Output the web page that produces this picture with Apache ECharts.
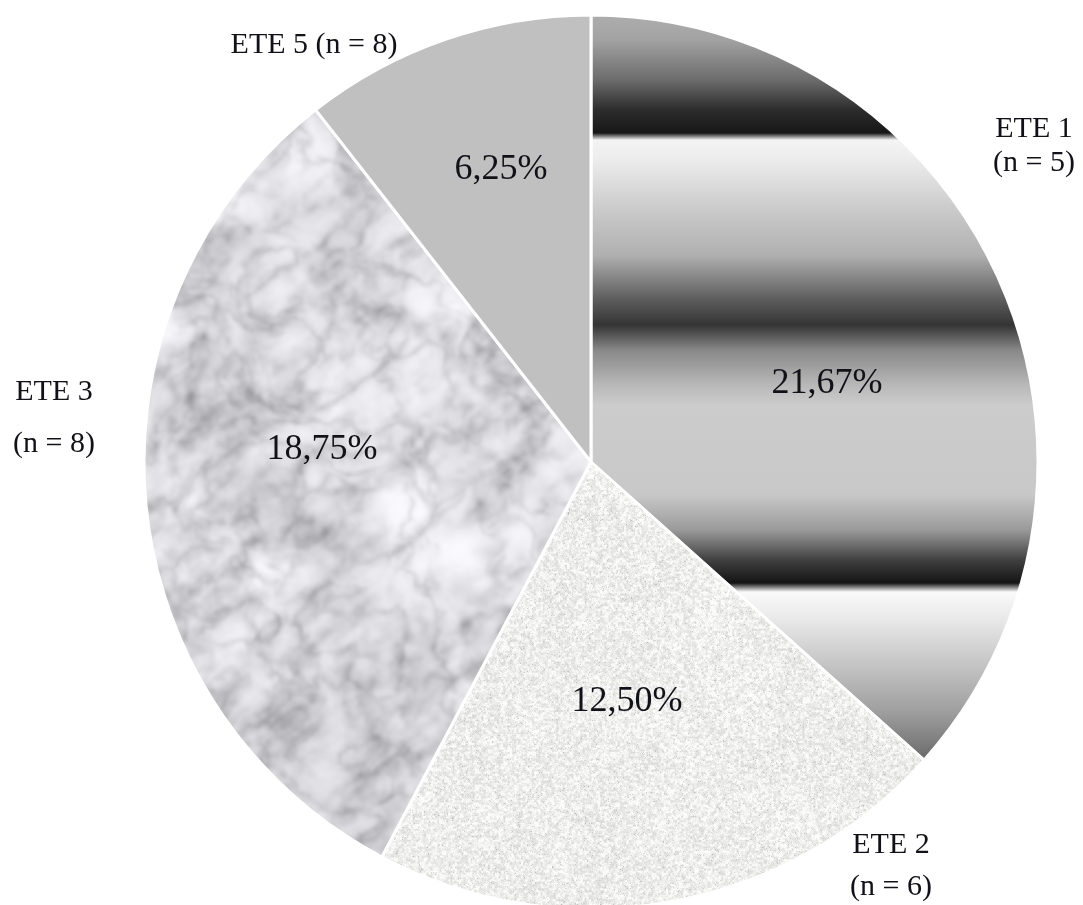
<!DOCTYPE html>
<html>
<head>
<meta charset="utf-8">
<script src="https://cdn.jsdelivr.net/npm/echarts@6/dist/echarts.min.js"></script>
<style>
  html, body { margin: 0; padding: 0; background: #ffffff; }
  #chart { width: 1083px; height: 905px; }
</style>
</head>
<body>
<div id="chart"></div>
<script>
// ---- data ----
const categories = ['ETE 1', 'ETE 2', 'ETE 3', 'ETE 5'];
const counts = [5, 6, 8, 8];
const shares = [21.67, 12.50, 18.75, 6.25];

// ---- layout ----
const W = 1083, H = 905;
const CENTER = [591, 462];
const RADIUS = 447;
// label anchor points (centre of each text block)
const shareLabelPos = [[827, 384], [627, 702], [322, 450], [501, 170]];
const nameLabelPos = [[1034, 146], [891, 866], [54, 418], [314, 45]];
const nameLineHeight = [34, 42, 52, 30];
const nameSeparator = ['\n', '\n', '\n', ' '];

// ---- deterministic noise helpers for the stone textures ----
function hash(ix, iy, seed) {
  let h = Math.imul(ix, 374761393) ^ Math.imul(iy, 668265263) ^ Math.imul(seed, 1442695041);
  h = Math.imul(h ^ (h >>> 13), 1274126177);
  h = h ^ (h >>> 16);
  return (h >>> 0) / 4294967295;
}
function vnoise(x, y, seed) {
  const x0 = Math.floor(x), y0 = Math.floor(y);
  const fx = x - x0, fy = y - y0;
  const sx = fx * fx * (3 - 2 * fx), sy = fy * fy * (3 - 2 * fy);
  const a = hash(x0, y0, seed), b = hash(x0 + 1, y0, seed);
  const c = hash(x0, y0 + 1, seed), d = hash(x0 + 1, y0 + 1, seed);
  const top = a + (b - a) * sx, bot = c + (d - c) * sx;
  return top + (bot - top) * sy;
}
function fbm(x, y, seed, oct) {
  let s = 0, amp = 0.5, f = 1, norm = 0;
  for (let i = 0; i < oct; i++) {
    s += amp * vnoise(x * f, y * f, seed + i * 17);
    norm += amp; amp *= 0.5; f *= 2;
  }
  return s / norm;
}
function softened(src, px) {
  const cv = document.createElement('canvas');
  cv.width = W; cv.height = H;
  const ctx = cv.getContext('2d');
  ctx.filter = 'blur(' + px + 'px)';
  ctx.drawImage(src, 0, 0);
  return cv;
}

// marble: pale grey ground with a soft, broken network of grey veins
function makeMarble() {
  const cv = document.createElement('canvas');
  cv.width = W; cv.height = H;
  const ctx = cv.getContext('2d');
  ctx.fillStyle = '#ebebee';
  ctx.fillRect(0, 0, W, H);
  const x0 = 110, x1 = 620, y0 = 80, y1 = 905;
  const img = ctx.getImageData(x0, y0, x1 - x0, y1 - y0);
  const px = img.data;
  let k = 0;
  for (let y = y0; y < y1; y++) {
    for (let x = x0; x < x1; x++) {
      const a = x * 0.6 - y * 0.8;
      const b = x * 0.8 + y * 0.6;
      const w1 = fbm(x / 70, y / 70, 5, 3) * 1.4;
      const w2 = fbm(x / 50, y / 50, 6, 3) * 1.4;
      const n1 = fbm(a / 110 + w1, b / 60 + w1, 1, 5);
      const n2 = fbm(x / 45 + w2, y / 38 - w2, 3, 4);
      const cloud = fbm(x / 80, y / 80, 2, 4);
      const blot = fbm(x / 12, y / 12, 8, 3);
      const r1 = 1 - Math.abs(2 * n1 - 1);
      const r2 = 1 - Math.abs(2 * n2 - 1);
      const vein = Math.pow(r1, 4) * 52 + Math.pow(r2, 5) * 36;
      let v = 248 - (cloud - 0.5) * 32 - vein * (0.35 + blot * 0.9) + (hash(x, y, 9) - 0.5) * 6;
      v = Math.max(140, Math.min(251, v));
      px[k++] = v - 1; px[k++] = v - 1; px[k++] = v + 3; px[k++] = 255;
    }
  }
  ctx.putImageData(img, x0, y0);
  return softened(cv, 1.6);
}

// granite: fine light speckle
function makeGranite() {
  const cv = document.createElement('canvas');
  cv.width = W; cv.height = H;
  const ctx = cv.getContext('2d');
  ctx.fillStyle = '#ececeb';
  ctx.fillRect(0, 0, W, H);
  const x0 = 360, x1 = 940, y0 = 450, y1 = 905;
  const img = ctx.getImageData(x0, y0, x1 - x0, y1 - y0);
  const px = img.data;
  let k = 0;
  for (let y = y0; y < y1; y++) {
    for (let x = x0; x < x1; x++) {
      let g = 238
        + (hash(x, y, 21) - 0.5) * 18
        + (vnoise(x / 2.2, y / 2.2, 22) - 0.5) * 36
        + (fbm(x / 40, y / 40, 23, 3) - 0.5) * 10;
      if (hash(x, y, 24) > 0.97) g -= 28;
      g = Math.max(160, Math.min(253, g));
      px[k++] = g; px[k++] = g; px[k++] = g - 1; px[k++] = 255;
    }
  }
  ctx.putImageData(img, x0, y0);
  return softened(cv, 0.6);
}

// banded metallic fill, bands run horizontally across the page
const bandStops = [
  [0, '#b4b4b4'], [40, '#a2a2a2'], [80, '#6c6c6c'], [110, '#2c2c2c'], [133, '#171717'],
  [140, '#f4f4f4'], [160, '#ececec'], [210, '#cacaca'], [255, '#b0b0b0'], [300, '#5c5c5c'],
  [325, '#343434'], [350, '#888888'], [385, '#b8b8b8'], [405, '#cccccc'], [495, '#c8c8c8'],
  [530, '#9a9a9a'], [560, '#404040'], [583, '#141414'], [592, '#fafafa'], [620, '#e8e8e8'],
  [660, '#c8c8c8'], [710, '#a0a0a0'], [760, '#6a6a6a'], [905, '#505050']
];
const bandFill = {
  type: 'linear', x: 0, y: 0, x2: 0, y2: H, global: true,
  colorStops: bandStops.map(s => ({ offset: s[0] / H, color: s[1] }))
};

const fills = [
  bandFill,
  { image: makeGranite(), repeat: 'no-repeat' },
  { image: makeMarble(), repeat: 'no-repeat' },
  '#c0c0c0'
];

const pieData = categories.map((c, i) => ({
  name: c,
  value: shares[i],
  itemStyle: { color: fills[i] }
}));

const fmtShare = v => v.toFixed(2).replace('.', ',') + '%';

const chart = echarts.init(document.getElementById('chart'), null, { renderer: 'canvas' });
chart.setOption({
  animation: false,
  backgroundColor: '#ffffff',
  series: [
    {
      type: 'pie',
      center: CENTER,
      radius: RADIUS,
      startAngle: 90,
      clockwise: true,
      avoidLabelOverlap: false,
      silent: true,
      itemStyle: { borderColor: '#ffffff', borderWidth: 3 },
      label: {
        show: true,
        position: 'inside',
        formatter: p => fmtShare(p.value),
        fontFamily: 'Liberation Serif',
        fontSize: 36,
        color: '#111118'
      },
      labelLine: { show: false },
      labelLayout: p => ({
        x: shareLabelPos[p.dataIndex][0],
        y: shareLabelPos[p.dataIndex][1],
        align: 'center',
        verticalAlign: 'middle'
      }),
      emphasis: { disabled: true },
      data: pieData
    },
    {
      type: 'pie',
      center: CENTER,
      radius: RADIUS,
      startAngle: 90,
      clockwise: true,
      avoidLabelOverlap: false,
      silent: true,
      itemStyle: { color: 'rgba(0,0,0,0)', borderWidth: 0 },
      label: {
        show: true,
        position: 'outside',
        formatter: p => p.name + nameSeparator[p.dataIndex] + '(n = ' + counts[p.dataIndex] + ')',
        fontFamily: 'Liberation Serif',
        fontSize: 30,
        color: '#111118',
        align: 'center'
      },
      labelLine: { show: false },
      labelLayout: p => ({
        x: nameLabelPos[p.dataIndex][0],
        y: nameLabelPos[p.dataIndex][1],
        align: 'center',
        verticalAlign: 'middle'
      }),
      emphasis: { disabled: true },
      data: categories.map((c, i) => ({
        name: c,
        value: shares[i],
        label: { lineHeight: nameLineHeight[i] }
      }))
    }
  ]
});
</script>
</body>
</html>
